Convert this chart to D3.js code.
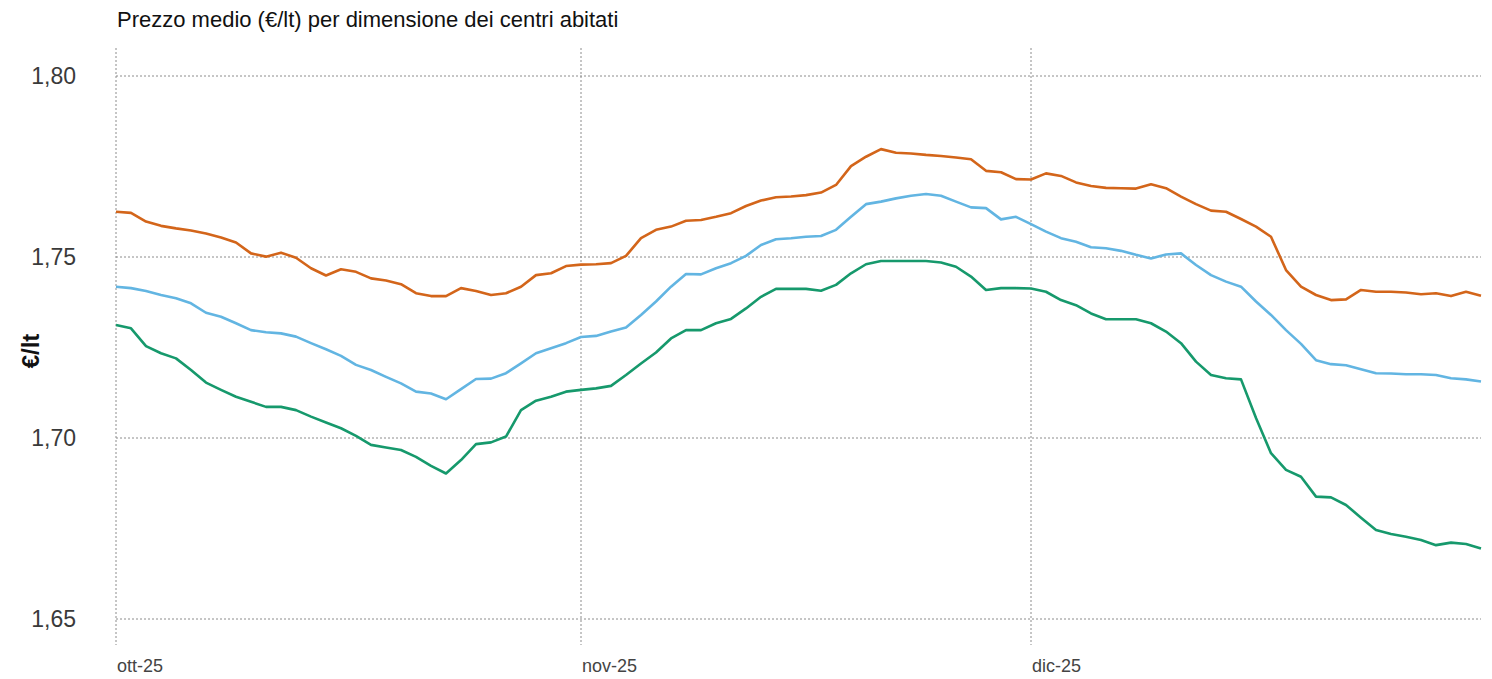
<!DOCTYPE html>
<html>
<head>
<meta charset="utf-8">
<script src="https://cdn.jsdelivr.net/npm/d3@7"></script>
<style>
  body { margin: 0; background: #fff; }
  svg { display: block; font-family: "Liberation Sans", Arial, sans-serif; }
</style>
</head>
<body>
<div id="viz"></div>
<script>
// daily prices, 1 Oct 2025 -> 31 Dec 2025
const startDay = new Date(2025, 9, 1)
const endDay = new Date(2025, 11, 31)

const serieArancio = [
  1.7625, 1.7622, 1.7598, 1.7586, 1.7579, 1.7573, 1.7565, 1.7554, 1.7540, 1.7510,
  1.7501, 1.7512, 1.7498, 1.7469, 1.7449, 1.7466, 1.7459, 1.7441, 1.7435, 1.7425,
  1.7400, 1.7392, 1.7392, 1.7414, 1.7406, 1.7395, 1.7400, 1.7418, 1.7450, 1.7455,
  1.7475, 1.7479, 1.7480, 1.7483, 1.7503, 1.7552, 1.7575, 1.7584, 1.7600, 1.7602,
  1.7611, 1.7621, 1.7641, 1.7656, 1.7665, 1.7667, 1.7671, 1.7678, 1.7699, 1.7751,
  1.7777, 1.7798, 1.7788, 1.7786, 1.7782, 1.7779, 1.7775, 1.7770, 1.7738, 1.7734,
  1.7715, 1.7714, 1.7731, 1.7724, 1.7706, 1.7696, 1.7691, 1.7690, 1.7689, 1.7701,
  1.7690, 1.7667, 1.7646, 1.7628, 1.7625, 1.7605, 1.7584, 1.7556, 1.7464, 1.7418,
  1.7395, 1.7381, 1.7383, 1.7409, 1.7404, 1.7404, 1.7402, 1.7397, 1.7400, 1.7392,
  1.7404, 1.7393
]

const serieAzzurro = [
  1.7418, 1.7414, 1.7406, 1.7395, 1.7386, 1.7372, 1.7346, 1.7335, 1.7317, 1.7298,
  1.7292, 1.7289, 1.7280, 1.7262, 1.7245, 1.7227, 1.7202, 1.7188, 1.7169, 1.7151,
  1.7128, 1.7123, 1.7107, 1.7135, 1.7163, 1.7164, 1.7179, 1.7206, 1.7234, 1.7248,
  1.7262, 1.7279, 1.7282, 1.7294, 1.7305, 1.7340, 1.7377, 1.7418, 1.7453, 1.7452,
  1.7469, 1.7483, 1.7503, 1.7533, 1.7549, 1.7552, 1.7556, 1.7558, 1.7575, 1.7611,
  1.7646, 1.7653, 1.7662, 1.7669, 1.7674, 1.7669, 1.7653, 1.7637, 1.7635, 1.7604,
  1.7611, 1.7591, 1.7570, 1.7552, 1.7542, 1.7527, 1.7524, 1.7517, 1.7506, 1.7496,
  1.7507, 1.7510, 1.7478, 1.7450, 1.7432, 1.7418, 1.7377, 1.7340, 1.7298, 1.7260,
  1.7215, 1.7204, 1.7201, 1.7190, 1.7179, 1.7178, 1.7176, 1.7176, 1.7174, 1.7165,
  1.7162, 1.7156
]

const serieVerde = [
  1.7312, 1.7303, 1.7254, 1.7234, 1.7220, 1.7188, 1.7153, 1.7133, 1.7114, 1.7100,
  1.7086, 1.7086, 1.7077, 1.7059, 1.7043, 1.7027, 1.7006, 1.6981, 1.6974, 1.6967,
  1.6948, 1.6923, 1.6902, 1.6939, 1.6983, 1.6988, 1.7004, 1.7077, 1.7103, 1.7114,
  1.7128, 1.7133, 1.7137, 1.7144, 1.7174, 1.7206, 1.7236, 1.7275, 1.7298, 1.7298,
  1.7317, 1.7329, 1.7358, 1.7390, 1.7412, 1.7412, 1.7412, 1.7407, 1.7423, 1.7455,
  1.7480, 1.7489, 1.7489, 1.7489, 1.7489, 1.7485, 1.7473, 1.7446, 1.7409, 1.7414,
  1.7414, 1.7413, 1.7404, 1.7381, 1.7367, 1.7344, 1.7328, 1.7328, 1.7328, 1.7317,
  1.7294, 1.7262, 1.7211, 1.7174, 1.7165, 1.7162, 1.7055, 1.6958, 1.6912, 1.6893,
  1.6838, 1.6836, 1.6815, 1.6780, 1.6746, 1.6735, 1.6727, 1.6718, 1.6704, 1.6711,
  1.6707, 1.6695
]

const seriesColors = ["#d3651a", "#62b5e2", "#16996c"]
const yTicks = [1.65, 1.70, 1.75, 1.80]
const xTicks = [new Date(2025, 9, 1), new Date(2025, 10, 1), new Date(2025, 11, 1)]
const xTickLabels = ["ott-25", "nov-25", "dic-25"]
const titolo = "Prezzo medio (€/lt) per dimensione dei centri abitati"
const yTitolo = "€/lt"

let w = 1492
let h = 679

const days = d3.timeDay.range(startDay, d3.timeDay.offset(endDay, 1))
const allSeries = [serieArancio, serieAzzurro, serieVerde]

const svg = d3.select("#viz")
  .append("svg")
  .attr("width", w)
  .attr("height", h)

const xScale = d3.scaleTime()
  .domain([startDay, endDay])
  .range([116, 1481])

const yScale = d3.scaleLinear()
  .domain([1.65, 1.80])
  .range([619, 76])

const itFormat = d3.formatLocale({ decimal: ",", thousands: ".", grouping: [3], currency: ["€", ""] }).format(".2f")

let gridGroup = svg.append("g")

// horizontal grid
gridGroup.selectAll("line.h")
  .data(yTicks)
  .enter()
  .append("line")
  .attr("x1", xScale(startDay))
  .attr("x2", xScale(endDay))
  .attr("y1", d => yScale(d))
  .attr("y2", d => yScale(d))
  .attr("stroke", "#8c8c8c")
  .attr("stroke-width", 1)
  .attr("stroke-dasharray", "2,2")

// vertical grid
gridGroup.selectAll("line.v")
  .data(xTicks)
  .enter()
  .append("line")
  .attr("x1", d => xScale(d))
  .attr("x2", d => xScale(d))
  .attr("y1", 48)
  .attr("y2", 645)
  .attr("stroke", "#8c8c8c")
  .attr("stroke-width", 1)
  .attr("stroke-dasharray", "2,2")

// y tick labels
svg.append("g").selectAll("text")
  .data(yTicks)
  .enter()
  .append("text")
  .attr("x", 76)
  .attr("y", d => yScale(d))
  .attr("dy", "0.36em")
  .attr("text-anchor", "end")
  .attr("font-size", 23)
  .attr("fill", "#3a3a3a")
  .text(d => itFormat(d))

// x tick labels
svg.append("g").selectAll("text")
  .data(xTicks)
  .enter()
  .append("text")
  .attr("x", d => xScale(d) + 1)
  .attr("y", 672)
  .attr("font-size", 18)
  .attr("fill", "#444")
  .text((d, i) => xTickLabels[i])

// title
svg.append("text")
  .attr("x", 117)
  .attr("y", 27)
  .attr("font-size", 22)
  .attr("fill", "#111")
  .text(titolo)

// y axis title
svg.append("text")
  .attr("transform", "translate(39,351) rotate(-90)")
  .attr("text-anchor", "middle")
  .attr("font-size", 24)
  .attr("font-weight", "bold")
  .attr("fill", "#111")
  .text(yTitolo)

const line = d3.line()
  .x((d, i) => xScale(days[i]))
  .y(d => yScale(d))

let lineGroup = svg.append("g")

lineGroup.selectAll("path")
  .data(allSeries)
  .enter()
  .append("path")
  .attr("d", d => line(d))
  .attr("fill", "none")
  .attr("stroke", (d, i) => seriesColors[i])
  .attr("stroke-width", 2.6)
  .attr("stroke-linejoin", "round")
</script>
</body>
</html>
